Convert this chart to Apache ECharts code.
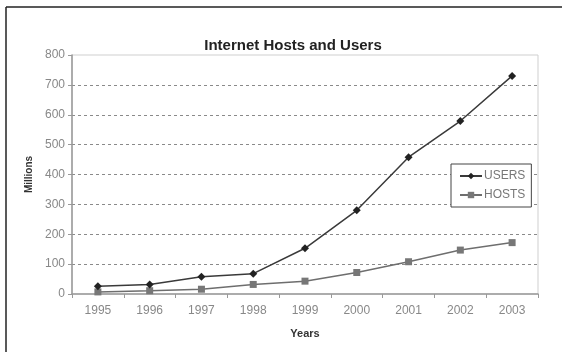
<!DOCTYPE html>
<html>
<head>
<meta charset="utf-8">
<script src="https://cdn.jsdelivr.net/npm/echarts@6/dist/echarts.min.js"></script>
<style>
  html, body { margin: 0; padding: 0; background: #fff; }
  #chart { width: 562px; height: 352px; }
</style>
</head>
<body>
<div id="chart"></div>
<script>
// Internet growth, in millions
const years = ['1995', '1996', '1997', '1998', '1999', '2000', '2001', '2002', '2003'];
const users = [26, 32, 58, 68, 153, 280, 458, 579, 730];
const hosts = [7, 11, 16, 32, 43, 72, 108, 147, 172];
const yTicks = { min: 0, max: 800, interval: 100 };

const chart = echarts.init(document.getElementById('chart'), null, { renderer: 'canvas' });

// dashed gridlines everywhere except the bottom (axis) and top (plot border)
const gridColors = [];
for (let v = yTicks.min; v <= yTicks.max; v += yTicks.interval) {
  gridColors.push(v === yTicks.min || v === yTicks.max ? 'rgba(0,0,0,0)' : '#8a8a8a');
}

const font = 'Liberation Sans, Arial, sans-serif';

chart.setOption({
  animation: false,
  backgroundColor: '#fff',
  textStyle: { fontFamily: font },
  title: {
    text: 'Internet Hosts and Users',
    left: 288,
    top: 33,
    textAlign: 'center',
    textStyle: { fontSize: 15, fontWeight: 'bold', color: '#222', fontFamily: font }
  },
  grid: {
    left: 72, right: 24, top: 55, bottom: 58,
    show: true, borderColor: '#cfcfcf', borderWidth: 1, backgroundColor: '#fff'
  },
  legend: {
    orient: 'vertical',
    left: 451, top: 164,
    width: 80,
    padding: [6, 6, 6, 8],
    itemGap: 7,
    itemWidth: 22, itemHeight: 8,
    borderColor: '#444', borderWidth: 1,
    backgroundColor: '#fff',
    textStyle: { fontSize: 12, color: '#777', fontFamily: font, padding: [0, 0, 0, -3] },
    data: ['USERS', 'HOSTS']
  },
  xAxis: {
    type: 'category',
    data: years,
    boundaryGap: true,
    name: 'Years',
    nameLocation: 'middle',
    nameGap: 34,
    nameTextStyle: { fontSize: 11, fontWeight: 'bold', color: '#333', fontFamily: font },
    axisLine: { lineStyle: { color: '#999', width: 1.5 } },
    axisTick: { show: true, length: 4, inside: false, lineStyle: { color: '#999' } },
    axisLabel: { fontSize: 12, color: '#888', margin: 11, fontFamily: font }
  },
  yAxis: {
    type: 'value',
    min: yTicks.min, max: yTicks.max, interval: yTicks.interval,
    name: 'Millions',
    nameLocation: 'middle',
    nameGap: 37,
    nameRotate: 90,
    nameTextStyle: { fontSize: 10, fontWeight: 'bold', color: '#333', fontFamily: font },
    axisLine: { show: true, lineStyle: { color: '#999', width: 1.5 } },
    axisTick: { show: true, length: 4, inside: false, lineStyle: { color: '#999' } },
    axisLabel: { fontSize: 12, color: '#888', margin: 7, fontFamily: font },
    splitLine: { show: true, lineStyle: { color: gridColors, type: [3, 3], width: 1 } }
  },
  series: [
    {
      name: 'USERS',
      type: 'line',
      data: users,
      symbol: 'diamond',
      symbolSize: 8,
      lineStyle: { color: '#3a3a3a', width: 1.5 },
      itemStyle: { color: '#222' },
      z: 3
    },
    {
      name: 'HOSTS',
      type: 'line',
      data: hosts,
      symbol: 'rect',
      symbolSize: 7,
      lineStyle: { color: '#6e6e6e', width: 1.5 },
      itemStyle: { color: '#777' },
      z: 2
    }
  ],
  graphic: [
    { type: 'line', shape: { x1: 6, y1: 7, x2: 562, y2: 7 }, style: { stroke: '#222', lineWidth: 1.5 } },
    { type: 'line', shape: { x1: 6, y1: 7, x2: 6, y2: 352 }, style: { stroke: '#222', lineWidth: 1.5 } }
  ]
});
</script>
</body>
</html>
